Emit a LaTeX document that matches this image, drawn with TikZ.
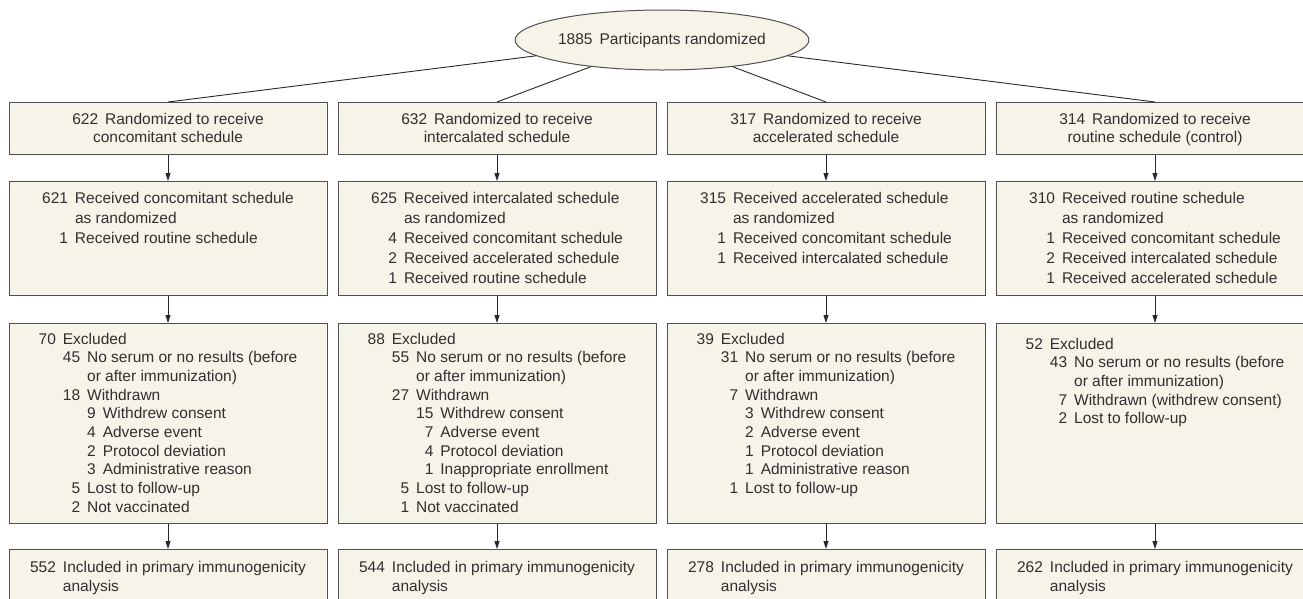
\documentclass[tikz,border=0pt]{standalone}
\usepackage{fontspec}
\setmainfont{Liberation Sans}
\usetikzlibrary{shapes.geometric,arrows.meta}
\definecolor{boxfill}{RGB}{246,243,232}
\definecolor{boxline}{RGB}{80,80,80}
\definecolor{txtc}{RGB}{48,48,48}
\definecolor{linec}{RGB}{40,40,40}
\newlength\flowdg \setlength\flowdg{8.62pt}
\newlength\flowgap \setlength\flowgap{7pt}
\newcommand\numA[1]{\makebox[\flowdg][r]{#1}\hspace{\flowgap}}
\newcommand\numB[1]{\makebox[2\flowdg][r]{#1}\hspace{\flowgap}}
\newcommand\numC[1]{\makebox[3\flowdg][r]{#1}\hspace{\flowgap}}
\newcommand\indB{\hspace*{\dimexpr2\flowdg+\flowgap\relax}}
\newcommand\indC{\hspace*{\dimexpr3\flowdg+\flowgap\relax}}
\begin{document}
\begin{tikzpicture}[x=1pt,y=-1pt,
  box/.style={draw=boxline,fill=boxfill,line width=1pt,minimum width=318pt,inner sep=0pt,anchor=north},
  tline/.style={text=txtc,inner sep=0pt,anchor=base,font=\fontsize{15.5}{#1}\selectfont},
  conn/.style={draw=linec,line width=0.9pt},
  arr/.style={conn,-{Triangle[length=8pt,width=5pt]}}]
\useasboundingbox (0,0) rectangle (1303,598);
\clip (0,0) rectangle (1303,598);

% root
\node[draw=boxline,fill=boxfill,line width=1pt,ellipse,minimum width=278pt,minimum height=60pt,inner sep=0pt,text=txtc,font=\fontsize{15.5}{19}\selectfont] (root) at (662,40) {1885\hspace{\flowgap}Participants randomized};

% row 1
\node[box,minimum height=52pt] (b11) at (168,102) {};
\node[box,minimum height=52pt] (b12) at (497,102) {};
\node[box,minimum height=52pt] (b13) at (826,102) {};
\node[box,minimum height=52pt] (b14) at (1155,102) {};
\node[tline=18] (t11) at (168,124) {\begin{tabular}[t]{@{}c@{}}622\hspace{\flowgap}Randomized to receive\\concomitant schedule\end{tabular}};
\node[tline=18] (t12) at (497,124) {\begin{tabular}[t]{@{}c@{}}632\hspace{\flowgap}Randomized to receive\\intercalated schedule\end{tabular}};
\node[tline=18] (t13) at (826,124) {\begin{tabular}[t]{@{}c@{}}317\hspace{\flowgap}Randomized to receive\\accelerated schedule\end{tabular}};
\node[tline=18] (t14) at (1155,124) {\begin{tabular}[t]{@{}c@{}}314\hspace{\flowgap}Randomized to receive\\routine schedule (control)\end{tabular}};

% row 2
\node[box,minimum height=114pt] (b21) at (168,181) {};
\node[box,minimum height=114pt] (b22) at (497,181) {};
\node[box,minimum height=114pt] (b23) at (826,181) {};
\node[box,minimum height=114pt] (b24) at (1155,181) {};
\node[tline=20] (t21) at (168,203) {\begin{tabular}[t]{@{}l@{}}\numC{621}Received concomitant schedule\\\indC as randomized\\\numC{1}Received routine schedule\end{tabular}};
\node[tline=20] (t22) at (497,203) {\begin{tabular}[t]{@{}l@{}}\numC{625}Received intercalated schedule\\\indC as randomized\\\numC{4}Received concomitant schedule\\\numC{2}Received accelerated schedule\\\numC{1}Received routine schedule\end{tabular}};
\node[tline=20] (t23) at (826,203) {\begin{tabular}[t]{@{}l@{}}\numC{315}Received accelerated schedule\\\indC as randomized\\\numC{1}Received concomitant schedule\\\numC{1}Received intercalated schedule\end{tabular}};
\node[tline=20] (t24) at (1155,203) {\begin{tabular}[t]{@{}l@{}}\numC{310}Received routine schedule\\\indC as randomized\\\numC{1}Received concomitant schedule\\\numC{2}Received intercalated schedule\\\numC{1}Received accelerated schedule\end{tabular}};

% row 3
\node[box,minimum height=200pt] (b31) at (168,323) {};
\node[box,minimum height=200pt] (b32) at (497,323) {};
\node[box,minimum height=200pt] (b33) at (826,323) {};
\node[box,minimum height=200pt] (b34) at (1155,323) {};
\node[tline=18.7] (t31) at (168,344) {\begin{tabular}[t]{@{}l@{}}\numB{70}Excluded\\
\indB\numB{45}No serum or no results (before\\
\indB\indB or after immunization)\\
\indB\numB{18}Withdrawn\\
\indB\indB\numA{9}Withdrew consent\\
\indB\indB\numA{4}Adverse event\\
\indB\indB\numA{2}Protocol deviation\\
\indB\indB\numA{3}Administrative reason\\
\indB\numB{5}Lost to follow-up\\
\indB\numB{2}Not vaccinated\end{tabular}};
\node[tline=18.7] (t32) at (497,344) {\begin{tabular}[t]{@{}l@{}}\numB{88}Excluded\\
\indB\numB{55}No serum or no results (before\\
\indB\indB or after immunization)\\
\indB\numB{27}Withdrawn\\
\indB\indB\numB{15}Withdrew consent\\
\indB\indB\numB{7}Adverse event\\
\indB\indB\numB{4}Protocol deviation\\
\indB\indB\numB{1}Inappropriate enrollment\\
\indB\numB{5}Lost to follow-up\\
\indB\numB{1}Not vaccinated\end{tabular}};
\node[tline=18.7] (t33) at (826,344) {\begin{tabular}[t]{@{}l@{}}\numB{39}Excluded\\
\indB\numB{31}No serum or no results (before\\
\indB\indB or after immunization)\\
\indB\numB{7}Withdrawn\\
\indB\indB\numA{3}Withdrew consent\\
\indB\indB\numA{2}Adverse event\\
\indB\indB\numA{1}Protocol deviation\\
\indB\indB\numA{1}Administrative reason\\
\indB\numB{1}Lost to follow-up\end{tabular}};
\node[tline=18.7] (t34) at (1155,349) {\begin{tabular}[t]{@{}l@{}}\numB{52}Excluded\\
\indB\numB{43}No serum or no results (before\\
\indB\indB or after immunization)\\
\indB\numB{7}Withdrawn (withdrew consent)\\
\indB\numB{2}Lost to follow-up\end{tabular}};

% row 4
\node[box,minimum height=62pt] (b41) at (168,549) {};
\node[box,minimum height=62pt] (b42) at (497,549) {};
\node[box,minimum height=62pt] (b43) at (826,549) {};
\node[box,minimum height=62pt] (b44) at (1155,549) {};
\node[tline=19] (t41) at (168,572) {\begin{tabular}[t]{@{}l@{}}\numC{552}Included in primary immunogenicity\\\indC analysis\end{tabular}};
\node[tline=19] (t42) at (497,572) {\begin{tabular}[t]{@{}l@{}}\numC{544}Included in primary immunogenicity\\\indC analysis\end{tabular}};
\node[tline=19] (t43) at (826,572) {\begin{tabular}[t]{@{}l@{}}\numC{278}Included in primary immunogenicity\\\indC analysis\end{tabular}};
\node[tline=19] (t44) at (1155,572) {\begin{tabular}[t]{@{}l@{}}\numC{262}Included in primary immunogenicity\\\indC analysis\end{tabular}};

% connectors
\foreach \b in {b11,b12,b13,b14} \draw[conn] (root) -- (\b.north);
\foreach \c in {1,2,3,4} {
  \draw[arr] (b1\c.south) -- (b2\c.north);
  \draw[arr] (b2\c.south) -- (b3\c.north);
  \draw[arr] (b3\c.south) -- (b4\c.north);
}
\end{tikzpicture}
\end{document}
